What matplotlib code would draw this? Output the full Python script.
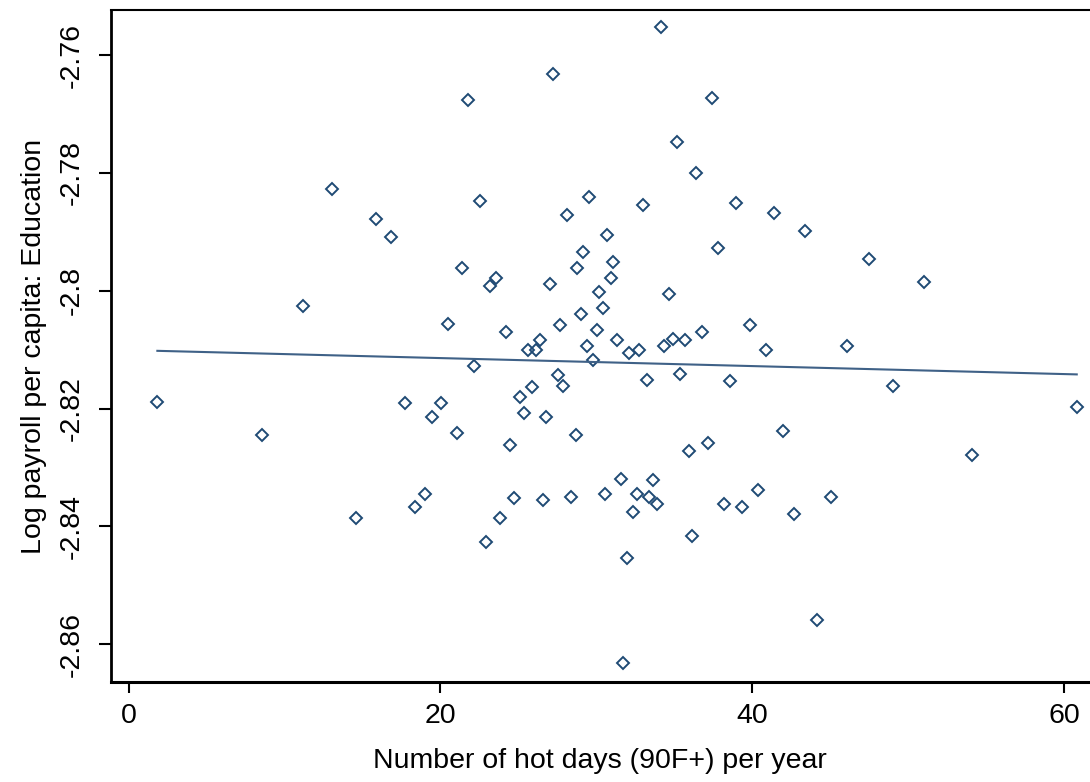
import matplotlib
matplotlib.use("Agg")
import matplotlib.pyplot as plt
import numpy as np

# hot days (90F+) per year
hot_days = [1.85, 8.58, 11.21, 13.03, 14.57, 15.86, 16.84, 17.74, 18.38, 19.02,
            19.49, 20.03, 20.51, 21.05, 21.41, 21.80, 22.18, 22.55, 22.93, 23.19,
            23.59, 23.83, 24.19, 24.47, 24.73, 25.11, 25.37, 25.61, 25.86, 26.12,
            26.40, 26.61, 26.76, 27.02, 27.25, 27.53, 27.66, 27.85, 28.15, 28.38,
            28.69, 28.79, 29.04, 29.15, 29.43, 29.54, 29.79, 30.05, 30.18, 30.46,
            30.58, 30.69, 30.95, 31.10, 31.33, 31.59, 31.74, 31.96, 32.10, 32.38,
            32.60, 32.75, 32.98, 33.24, 33.39, 33.62, 33.88, 34.16, 34.37, 34.65,
            34.91, 35.16, 35.39, 35.68, 35.93, 36.14, 36.42, 36.81, 37.19, 37.45,
            37.83, 38.20, 38.58, 38.97, 39.33, 39.87, 40.38, 40.87, 41.39, 42.00,
            42.67, 43.41, 44.16, 45.08, 46.09, 47.50, 49.02, 51.05, 54.11, 60.82]

# log payroll per capita (education)
log_payroll = [-2.8188, -2.8245, -2.8026, -2.7828, -2.8386, -2.7878, -2.7908, -2.8191, -2.8367, -2.8345,
               -2.8215, -2.8191, -2.8056, -2.8241, -2.7962, -2.7676, -2.8127, -2.7848, -2.8427, -2.7992,
               -2.7978, -2.8386, -2.8070, -2.8262, -2.8352, -2.8180, -2.8208, -2.8100, -2.8164, -2.8100,
               -2.8084, -2.8356, -2.8214, -2.7989, -2.7632, -2.8143, -2.8059, -2.8161, -2.7872, -2.8350,
               -2.8245, -2.7962, -2.8039, -2.7935, -2.8093, -2.7841, -2.8117, -2.8067, -2.8003, -2.8029,
               -2.8345, -2.7905, -2.7978, -2.7952, -2.8084, -2.8319, -2.8632, -2.8454, -2.8106, -2.8376,
               -2.8345, -2.8100, -2.7855, -2.8152, -2.8350, -2.8322, -2.8362, -2.7552, -2.8093, -2.8006,
               -2.8082, -2.7747, -2.8141, -2.8084, -2.8272, -2.8416, -2.7801, -2.8070, -2.8258, -2.7673,
               -2.7928, -2.8362, -2.8154, -2.7851, -2.8367, -2.8059, -2.8339, -2.8100, -2.7868, -2.8238,
               -2.8379, -2.7898, -2.8558, -2.8350, -2.8093, -2.7946, -2.8161, -2.7986, -2.8279, -2.8198]

# linear fit endpoints (at min and max of hot_days)
fit_y = [-2.8102, -2.8142]

x_ticks = [0, 20, 40, 60]
y_ticks = [-2.76, -2.78, -2.80, -2.82, -2.84, -2.86]
y_tick_labels = ["-2.76", "-2.78", "-2.8", "-2.82", "-2.84", "-2.86"]

plt.rcParams['font.family'] = ['Liberation Sans', 'DejaVu Sans']

fig = plt.figure(figsize=(10.9, 7.82), dpi=100)
ax = fig.add_axes([0.1016, 0.1279, 0.8984, 0.8593])

ax.plot(hot_days, log_payroll, linestyle='none', marker='D', markersize=6,
        markerfacecolor='none', markeredgecolor='#1f4a74', markeredgewidth=1.4)
fit_x = [min(hot_days), max(hot_days)]
ax.plot(fit_x, fit_y, color='#3f6187', linewidth=1.5)

ax.set_xlim(-1.14, 61.67)
ax.set_ylim(-2.8664, -2.75236)

ax.set_xticks(x_ticks)
ax.set_xticklabels([str(t) for t in x_ticks])
ax.set_yticks(y_ticks)
ax.set_yticklabels(y_tick_labels, rotation=90, va='center')

ax.tick_params(axis='x', length=8, width=1.5, pad=7, labelsize=20.5)
ax.tick_params(axis='y', length=8.5, width=1.5, pad=10.5, labelsize=20.5)

ax.spines['right'].set_visible(False)
ax.spines['left'].set_linewidth(2.0)
ax.spines['bottom'].set_linewidth(2.2)
ax.spines['top'].set_linewidth(1.5)

ax.set_xlabel("Number of hot days (90F+) per year", fontsize=20.5, labelpad=14)
ax.set_ylabel("Log payroll per capita: Education", fontsize=20.5, labelpad=8)

fig.savefig("out.png", dpi=100)
